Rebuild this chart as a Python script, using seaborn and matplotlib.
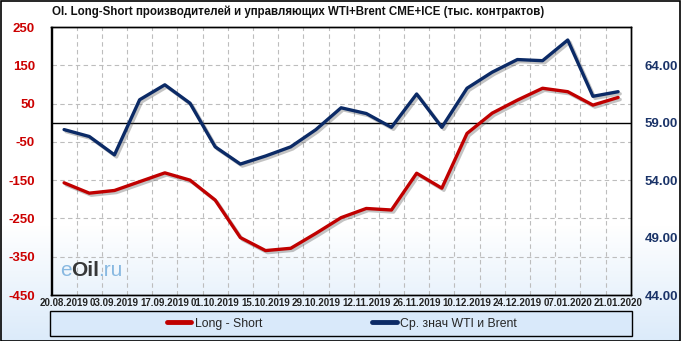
import numpy as np
import pandas as pd
import matplotlib
matplotlib.use("Agg")
import matplotlib.pyplot as plt
import matplotlib.patheffects as pe
from matplotlib.patches import Rectangle
from matplotlib.lines import Line2D
import seaborn as sns

dates = ["20.08.2019", "27.08.2019", "03.09.2019", "10.09.2019", "17.09.2019",
         "24.09.2019", "01.10.2019", "08.10.2019", "15.10.2019", "22.10.2019",
         "29.10.2019", "05.11.2019", "12.11.2019", "19.11.2019", "26.11.2019",
         "03.12.2019", "10.12.2019", "17.12.2019", "24.12.2019", "31.12.2019",
         "07.01.2020", "14.01.2020", "21.01.2020"]
long_short = [-157, -184, -177, -154, -131, -150, -202, -300, -334, -328,
              -289, -248, -224, -228, -132, -171, -28, 25, 59, 90, 81, 46, 66]
wti_brent = [58.4, 57.8, 56.2, 61.0, 62.3, 60.7, 56.9, 55.4, 56.1, 56.9,
             58.4, 60.3, 59.8, 58.6, 61.5, 58.6, 62.0, 63.4, 64.5, 64.4,
             66.2, 61.3, 61.7]
left_ticks = [-450, -350, -250, -150, -50, 50, 150, 250]
right_ticks = [44, 49, 54, 59, 64]

title = "OI. Long-Short производителей и управляющих WTI+Brent CME+ICE (тыс. контрактов)"
label_red = "Long - Short"
label_blue = "Ср. знач WTI и Brent"

RED = "#C00000"
BLUE = "#0B2A66"

sns.set_style("white")
plt.rcParams["font.family"] = ["Liberation Sans", "DejaVu Sans"]

df = pd.DataFrame({"idx": np.arange(len(dates)), "date": dates,
                   "ls": long_short, "px": wti_brent})

W, H = 681, 341
fig = plt.figure(figsize=(W / 100, H / 100), dpi=100)

# background gradient
bg = fig.add_axes([0, 0, 1, 1], zorder=-10)
grad = np.ones((H, 1, 3))
top = np.array([1.0, 1.0, 1.0])
bot = np.array([0.86, 0.92, 0.98])
for r in range(H):
    t = (r - 225) / (H - 225)
    t = min(max(t, 0), 1)
    grad[r, 0] = top * (1 - t) + bot * t
bg.imshow(grad, aspect="auto", extent=[0, 1, 0, 1])
bg.set_axis_off()
fig.patches.append(Rectangle((0.5 / W, 0.5 / H), 1 - 1.5 / W, 1 - 1.5 / H,
                             transform=fig.transFigure, fill=False,
                             edgecolor="black", lw=1.2, zorder=5))

ax = fig.add_axes([51.5 / W, 1 - 295 / H, (630.7 - 51.5) / W, (295 - 27) / H])
ax.set_facecolor("none")
ax2 = ax.twinx()

n = len(dates)
ax.set_xlim(-0.5, n - 0.5)
ax.set_ylim(-450, 250)
ax2.set_ylim(44, 59 + 250 / 30)

grid_kw = dict(color="#BDBDBD", lw=0.8, ls=(0, (4, 3)), zorder=0)
for k in range(n - 1):
    ax.axvline(k + 0.5, **grid_kw)
for v in left_ticks[1:-1]:
    ax.axhline(v, **grid_kw)
ax.axhline(0, color="black", lw=1, zorder=1)

shadow = [pe.SimpleLineShadow(offset=(1.5, -1.5), shadow_color="#555555", alpha=0.35),
          pe.Normal()]
sns.lineplot(data=df, x="idx", y="ls", ax=ax, color=RED, lw=2.4,
             path_effects=shadow, zorder=3, legend=False)
sns.lineplot(data=df, x="idx", y="px", ax=ax2, color=BLUE, lw=2.4,
             path_effects=shadow, zorder=3, legend=False)
for a in (ax, ax2):
    for ln in a.get_lines():
        ln.set_solid_joinstyle("round")
        ln.set_solid_capstyle("round")

ax.set_xlabel("")
ax.set_ylabel("")
ax2.set_ylabel("")
ax.set_xticks(np.arange(0, n, 2))
ax.set_xticklabels(dates[::2], fontsize=7, fontweight="bold", color="#222222")
ax.set_yticks(left_ticks)
ax.set_yticklabels([str(v) for v in left_ticks], fontsize=9.5,
                   fontweight="bold", color="#CC0000")
ax2.set_yticks(right_ticks)
ax2.set_yticklabels([f"{v:.2f}" for v in right_ticks], fontsize=9.5,
                    fontweight="bold", color="#1A3368")
ax.tick_params(axis="x", length=0, pad=2)
ax.tick_params(axis="y", length=0, pad=12)
ax2.tick_params(axis="y", length=0, pad=10)
for a in (ax, ax2):
    for s in a.spines.values():
        s.set_color("black")
        s.set_linewidth(1)

fig.text(52 / W, 1 - 12 / H, title, fontsize=8.3, fontweight="bold",
         va="center", ha="left", color="#111111")

# watermark
r = fig.canvas.get_renderer()
x0 = 60
parts = [("e", "#7DB2DE", "normal"), ("Oil", "#222222", "bold"), (".ru", "#7DB2DE", "normal")]
for txt, col, wt in parts:
    t = fig.text(x0 / W, 1 - 270 / H, txt, fontsize=15, color=col,
                 fontweight=wt, va="center", ha="left", alpha=0.9)
    bb = t.get_window_extent(renderer=r)
    x0 += bb.width - 1

# legend box
fig.patches.append(Rectangle((50 / W, 1 - 336 / H), 582 / W, 25 / H,
                             transform=fig.transFigure, facecolor="#D9E9FA",
                             edgecolor="black", lw=1, zorder=1))
handles = [Line2D([], [], color=RED, lw=3.5), Line2D([], [], color=BLUE, lw=3.5)]
fig.legend(handles, [label_red, label_blue], loc="center",
           bbox_to_anchor=(342 / W, 1 - 323.5 / H), ncol=2, frameon=False,
           fontsize=8.8, handlelength=2.0, handletextpad=0.3,
           columnspacing=9.0)

fig.savefig("out.png", dpi=100)
